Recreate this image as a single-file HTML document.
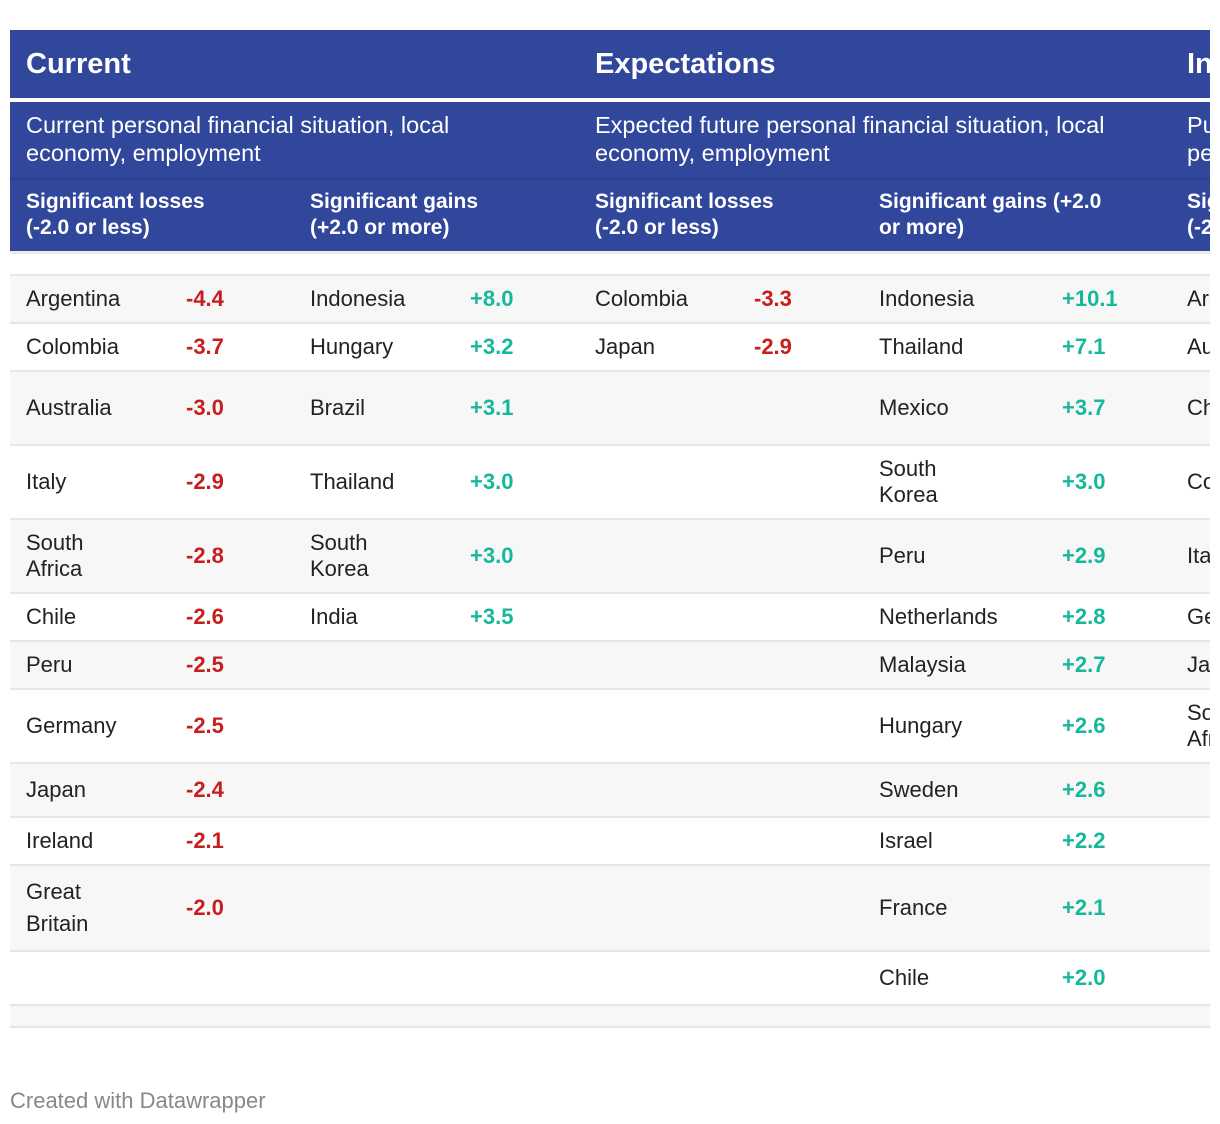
<!DOCTYPE html>
<html><head><meta charset="utf-8">
<style>
body{margin:0;width:1220px;height:1124px;background:#fff;font-family:"Liberation Sans",sans-serif;position:relative;overflow:hidden;color:#222}
#wrap{position:absolute;left:10px;top:30px;width:1200px;height:1000px;overflow:hidden}
.abs{position:absolute}
.band{position:absolute;left:0;width:1200px;background:#31479c}
.h1{position:absolute;top:18px;color:#fff;font-weight:bold;font-size:29px;white-space:nowrap}
.h2{position:absolute;top:81px;color:#fff;font-size:23.5px;line-height:28px;white-space:nowrap}
.h3{position:absolute;top:159px;color:#fff;font-weight:bold;font-size:21px;line-height:26px;white-space:nowrap}
.row{position:absolute;left:0;width:1200px;border-bottom:2px solid #e6e6e6;box-sizing:border-box}
.cell{position:absolute;font-size:22px;line-height:26px;white-space:nowrap;display:flex;align-items:center;height:100%;top:0}
.neg{color:#c71e1d;font-weight:bold}
.pos{color:#15b89a;font-weight:bold}
#foot{position:absolute;left:10px;top:1088px;font-size:22px;color:#888}
</style></head>
<body>
<div id="wrap">
  <div class="band" style="top:0;height:68px"></div>
  <div class="band" style="top:72px;height:76px"></div>
  <div class="band" style="top:148px;height:2px;background:#2b3f8f"></div>
  <div class="band" style="top:150px;height:71px"></div>
  <div class="abs" style="left:0;top:221px;width:1200px;height:3px;background:#ececec"></div>
  <div class="h1" style="left:16px">Current</div>
  <div class="h1" style="left:585px">Expectations</div>
  <div class="h1" style="left:1177px">Inflation</div>
  <div class="h2" style="left:16px">Current personal financial situation, local<br>economy, employment</div>
  <div class="h2" style="left:585px">Expected future personal financial situation, local<br>economy, employment</div>
  <div class="h2" style="left:1177px">Purchasing<br>personal</div>
  <div class="h3" style="left:16px">Significant losses<br>(-2.0 or less)</div>
  <div class="h3" style="left:300px">Significant gains<br>(+2.0 or more)</div>
  <div class="h3" style="left:585px">Significant losses<br>(-2.0 or less)</div>
  <div class="h3" style="left:869px">Significant gains (+2.0<br>or more)</div>
  <div class="h3" style="left:1177px">Significant losses<br>(-2.0 or less)</div>
  <div class="abs" style="left:0;top:244px;width:1200px;height:2px;background:#e6e6e6"></div>
  <div id="rows"></div>
</div>
<div id="foot">Created with Datawrapper</div>
<script>
const curLossNames=["Argentina","Colombia","Australia","Italy","South<br>Africa","Chile","Peru","Germany","Japan","Ireland","Great<br>Britain",""];
const curLossVals=["-4.4","-3.7","-3.0","-2.9","-2.8","-2.6","-2.5","-2.5","-2.4","-2.1","-2.0",""];
const curGainNames=["Indonesia","Hungary","Brazil","Thailand","South<br>Korea","India","","","","","",""];
const curGainVals=["+8.0","+3.2","+3.1","+3.0","+3.0","+3.5","","","","","",""];
const expLossNames=["Colombia","Japan","","","","","","","","","",""];
const expLossVals=["-3.3","-2.9","","","","","","","","","",""];
const expGainNames=["Indonesia","Thailand","Mexico","South<br>Korea","Peru","Netherlands","Malaysia","Hungary","Sweden","Israel","France","Chile"];
const expGainVals=["+10.1","+7.1","+3.7","+3.0","+2.9","+2.8","+2.7","+2.6","+2.6","+2.2","+2.1","+2.0"];
const thirdNames=["Argentina","Australia","Chile","Colombia","Italy","Germany","Japan","South<br>Africa","","","",""];
const rowHeights=[48,48,74,74,74,48,48,74,54,48,86,54];
const cols=[
 {names:curLossNames,vals:curLossVals,nx:16,vx:176,cls:"neg",key:"current-loss"},
 {names:curGainNames,vals:curGainVals,nx:300,vx:460,cls:"pos",key:"current-gain"},
 {names:expLossNames,vals:expLossVals,nx:585,vx:744,cls:"neg",key:"expect-loss"},
 {names:expGainNames,vals:expGainVals,nx:869,vx:1052,cls:"pos",key:"expect-gain"},
 {names:thirdNames,vals:null,nx:1177,vx:0,cls:"neg",key:"third-loss"}
];
const host=document.getElementById('rows');
let y=246;
rowHeights.forEach((h,i)=>{
  const r=document.createElement('div');
  r.className='row';
  
  
  r.style.top=y+'px';r.style.height=h+'px';
  r.style.background=i%2===0?'#f7f7f7':'#fff';
  cols.forEach(c=>{
    if(c.names[i]){
      const n=document.createElement('div');
      n.className='cell';
      
      
      n.style.left=c.nx+'px';
      if(c.names[i].startsWith('Great'))n.style.lineHeight='32px';
      n.innerHTML='<span>'+c.names[i]+'</span>';
      r.appendChild(n);
    }
    if(c.vals&&c.vals[i]){
      const v=document.createElement('div');
      v.className='cell '+c.cls;
      
      
      v.style.left=c.vx+'px';
      v.textContent=c.vals[i];
      r.appendChild(v);
    }
  });
  host.appendChild(r);
  y+=h;
});
const last=document.createElement('div');
last.className='abs';


last.style.cssText='left:0;top:'+y+'px;width:1200px;height:22px;background:#f7f7f7;border-bottom:2px solid #e6e6e6;box-sizing:border-box';
host.appendChild(last);
</script>
</body></html>
